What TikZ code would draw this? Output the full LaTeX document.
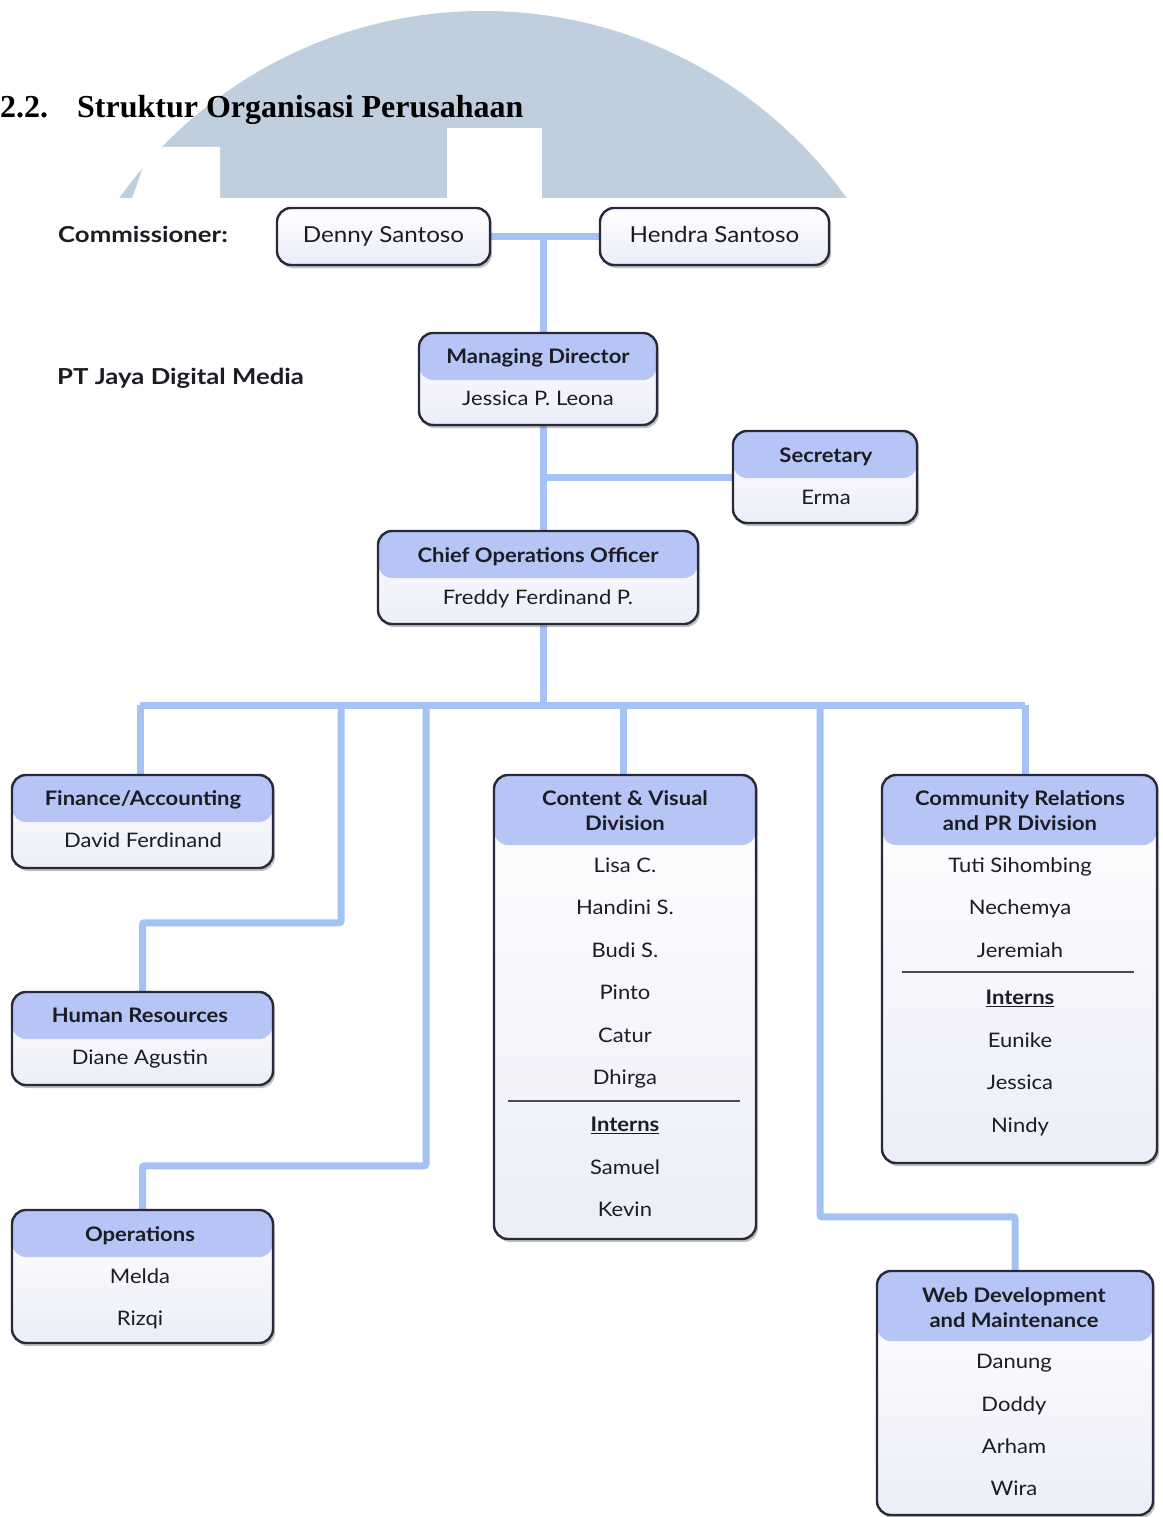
\documentclass[tikz,border=0pt]{standalone}
\usepackage{fontspec}
\setmainfont{Liberation Serif}
\newfontfamily\chartfont[FakeStretch=1.1]{Lato}
\newfontfamily\labelfont[FakeStretch=1.17]{Lato}
\usetikzlibrary{positioning,shadows,calc}
\definecolor{wmark}{RGB}{192,207,221}
\definecolor{linkblue}{RGB}{164,194,244}
\definecolor{headblue}{RGB}{182,197,245}
\definecolor{boxline}{RGB}{40,42,60}
\definecolor{bodylow}{RGB}{236,238,248}
\definecolor{ink}{RGB}{28,28,36}
\pgfdeclarelayer{background}
\pgfsetlayers{background,main}
\tikzset{link/.style={draw=linkblue, line width=7pt, rounded corners=2pt},
         box/.style={draw=boxline, line width=2.4pt, rounded corners=14pt, inner sep=0pt,
                     top color=white, bottom color=bodylow,
                     drop shadow={shadow xshift=2pt, shadow yshift=-3pt, opacity=.35, fill=black!70}},
         hbox/.style={box, path picture={\fill[headblue] (path picture bounding box.north west)
                     rectangle ([yshift=-#1]path picture bounding box.north east);}},
         head/.style={font=\chartfont\bfseries\fontsize{20}{25}\selectfont, text=ink,
                      text height=1.3em, text depth=0pt, inner sep=0pt},
         headtwo/.style={font=\chartfont\bfseries\fontsize{20}{25}\selectfont, text=ink,
                         align=center, inner sep=0pt},
         member/.style={font=\chartfont\fontsize{20}{25}\selectfont, text=ink,
                        text height=1.3em, text depth=0pt, inner sep=0pt},
         label/.style={font=\labelfont\bfseries\fontsize{22}{26}\selectfont, text=ink,
                       anchor=west, inner sep=0pt, text height=1.25em, text depth=0pt},
         title/.style={font=\bfseries\fontsize{32}{38}\selectfont, anchor=base west, inner sep=0pt},
         sep/.style={draw=black!70, line width=1.3pt}
}

\begin{document}
\begin{tikzpicture}[x=1pt, y=-1pt]
  \useasboundingbox (0,0) rectangle (1162,1517);
  % heading
  \node[title] (num) at (0,118) {2.2.};
  \node[title] (ttl) at (77,118) {Struktur Organisasi Perusahaan};
  \node[label] (comm) at (58,236) {Commissioner:};
  \node[label] (pt) at (57,378) {PT Jaya Digital Media};

  % commissioners
  \node[box, member, font=\chartfont\fontsize{22}{26}\selectfont, text height=1.25em, minimum width=213pt, minimum height=57pt] (den) at (383.5,236.5) {Denny Santoso};
  \node[box, member, font=\chartfont\fontsize{22}{26}\selectfont, text height=1.25em, minimum width=229pt, minimum height=57pt] (hen) at (714.5,236.5) {Hendra Santoso};

  % directors
  \node[hbox=47pt, minimum width=238pt, minimum height=92pt] (md) at (538,379) {};
  \node[head] (mdH) at (538,357) {Managing Director};
  \node[member] (mdN) at (538,399) {Jessica P. Leona};

  \node[hbox=47pt, minimum width=184pt, minimum height=92pt] (sec) at (825,477) {};
  \node[head] (secH) at (826,456) {Secretary};
  \node[member] (secN) at (826,498) {Erma};

  \node[hbox=47pt, minimum width=320pt, minimum height=93pt] (coo) at (538,577.5) {};
  \node[head] (cooH) at (538,556) {Chief Operations Officer};
  \node[member] (cooN) at (538,598) {Freddy Ferdinand P.};

  % divisions
  \node[hbox=47pt, minimum width=261pt, minimum height=93pt] (fin) at (142.5,821.5) {};
  \node[head] (finH) at (143,799) {Finance/Accounting};
  \node[member] (finN) at (143,841) {David Ferdinand};

  \node[hbox=47pt, minimum width=261pt, minimum height=93pt] (hr) at (142.5,1038.5) {};
  \node[head] (hrH) at (140,1016) {Human Resources};
  \node[member] (hrN) at (140,1058) {Diane Agustin};

  \node[hbox=47pt, minimum width=261pt, minimum height=133pt] (ops) at (142.5,1276.5) {};
  \node[head] (opsH) at (140,1235) {Operations};
  \foreach \who [count=\i] in {Melda,Rizqi}
    \node[member] (ops\i) at (140,1235+42*\i) {\who};

  \node[hbox=70pt, minimum width=262pt, minimum height=464pt] (cv) at (625,1007) {};
  \node[headtwo] (cvH) at (625,810.5) {Content \& Visual\\Division};
  \foreach \who [count=\i] in {Lisa C.,Handini S.,Budi S.,Pinto,Catur,Dhirga}
    \node[member] (cv\i) at (625,823+42.5*\i) {\who};
  \draw[sep] (508,1101) -- (740,1101);
  \node[head] (cvI) at (625,1125) {\underline{Interns}};
  \foreach \who [count=\i] in {Samuel,Kevin}
    \node[member] (cvi\i) at (625,1125+42.5*\i) {\who};

  \node[hbox=70pt, minimum width=275pt, minimum height=388pt] (cr) at (1019.5,969) {};
  \node[headtwo] (crH) at (1020,810.5) {Community Relations\\and PR Division};
  \foreach \who [count=\i] in {Tuti Sihombing,Nechemya,Jeremiah}
    \node[member] (cr\i) at (1020,823+42.5*\i) {\who};
  \draw[sep] (902,972) -- (1134,972);
  \node[head] (crI) at (1020,998) {\underline{Interns}};
  \foreach \who [count=\i] in {Eunike,Jessica,Nindy}
    \node[member] (cri\i) at (1020,998+42.5*\i) {\who};

  \node[hbox=70pt, minimum width=276pt, minimum height=244pt] (web) at (1015,1393) {};
  \node[headtwo] (webH) at (1014,1307.5) {Web Development\\and Maintenance};
  \foreach \who [count=\i] in {Danung,Doddy,Arham,Wira}
    \node[member] (web\i) at (1014,1320+42.3*\i) {\who};

  % connectors
  \coordinate (top) at (543,237);
  \coordinate (bus) at (543,705);
  \foreach \x [count=\i] in {140,341,426,623,820,1025}
    \coordinate (b\i) at (\x,705);
  \begin{pgfonlayer}{background}
    \fill[white] (0,0) rectangle (1162,1517);
    \begin{scope}
      \clip (0,0) rectangle (1162,198);
      \fill[wmark] (483,458) circle (447pt);
    \end{scope}
    \fill[white] (150,147) -- (220,147) -- (220,199) -- (132,199) -- cycle;
    \fill[white] (447,128) rectangle (542,199);
    \draw[link] (den) -- (hen);
    \draw[link] (top) -- (bus);
    \draw[link] (top |- sec.west) -- (sec.west);
    \draw[link] (b1) -- (b6);
    \draw[link] (b1) -- (fin.north -| b1);
    \draw[link] (b2) |- ([yshift=68pt]hr.north) -- (hr.north);
    \draw[link] (b3) |- ([yshift=43pt]ops.north) -- (ops.north);
    \draw[link] (b4) -- (cv.north -| b4);
    \draw[link] (b5) |- ([yshift=53pt]web.north) -- (web.north);
    \draw[link] (b6) -- (cr.north -| b6);
  \end{pgfonlayer}
\end{tikzpicture}
\end{document}
